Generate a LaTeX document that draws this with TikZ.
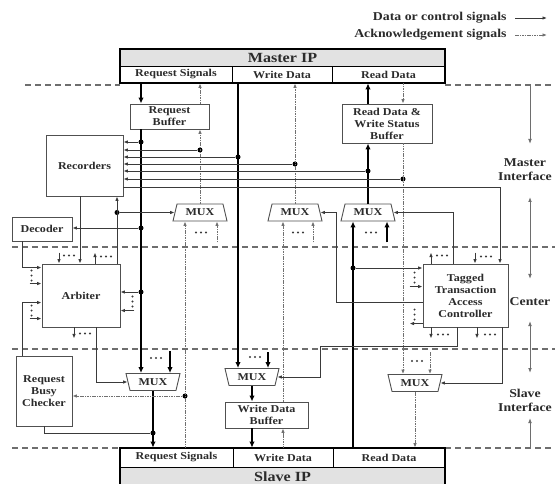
\documentclass[tikz,border=0pt]{standalone}
\usepackage{fontspec}
\setmainfont{Liberation Serif}[FakeStretch=1.15]
\usepackage{tikz}
\usetikzlibrary{arrows.meta,calc,positioning,shapes.geometric}
\definecolor{wiregray}{HTML}{3A3A3A}
\definecolor{ackgray}{HTML}{707070}
\definecolor{framegray}{HTML}{505050}
\definecolor{headgray}{HTML}{E2E2E2}
\definecolor{zonegray}{HTML}{6E6E6E}
\definecolor{textgray}{HTML}{2B2B2B}

\tikzset{
  boxfont/.style={font=\bfseries\fontsize{10.5}{12}\selectfont, text=textgray},
  unit/.style={boxfont, draw=framegray, line width=0.9pt, fill=white, align=center, inner sep=1pt},
  mux/.style={boxfont, trapezium, trapezium stretches body, trapezium left angle=60, trapezium right angle=60,
    draw=framegray, line width=0.9pt, fill=white, minimum width=54pt, minimum height=17pt, inner sep=0pt},
  muxdown/.style={mux, trapezium left angle=120, trapezium right angle=120},
  ipcell/.style={boxfont, draw=black, line width=0.8pt, inner sep=0pt, minimum height=17pt},
  iphead/.style={ipcell, fill=headgray, font=\bfseries\fontsize{14}{16}\selectfont},
  sig/.style={draw=wiregray, line width=0.9pt, -{Latex[length=4.5pt,width=3.6pt]}},
  bus/.style={draw=black, line width=2.2pt, -{Latex[length=6pt,width=5.5pt]}},
  ack/.style={draw=ackgray, line width=0.9pt, dash pattern=on 1.6pt off 0.8pt, -{Latex[length=4.5pt,width=3.6pt]}},
  tap/.style={draw=wiregray, line width=0.9pt},
  junction/.style={circle, fill=black, inner sep=0pt, minimum size=5pt},
  zone/.style={draw=zonegray, line width=1.2pt, dash pattern=on 6pt off 4pt},
  zonearrow/.style={draw=zonegray, line width=1pt},
  zonelabel/.style={font=\bfseries\fontsize{12}{14}\selectfont, text=textgray, align=center},
  legendtext/.style={font=\bfseries\fontsize{12}{14}\selectfont, text=textgray, anchor=east},
  dotrow/.pic={\foreach \d in {-5,0,5} \fill[wiregray] (\d,0) circle (1.1);},
  dotcol/.pic={\foreach \d in {-5,0,5} \fill[wiregray] (0,\d) circle (1.1);}
}

\begin{document}
\begin{tikzpicture}[x=1pt,y=-1pt]
    \useasboundingbox (0,0) rectangle (555,484);
    \clip (0,0) rectangle (555,484);

    % zone borders
    \draw[zone] (25,85) -- (120,85) (445,85) -- (555,85);
    \draw[zone] (12,247) -- (555,247);
    \draw[zone] (12,349) -- (555,349);
    \draw[zone] (12,448) -- (120,448) (445,448) -- (555,448);

    \node[legendtext] (lgdata) at (510,18) {Data or control signals};
    \node[legendtext] (lgack) at (510,35) {Acknowledgement signals};
    \draw[sig] ([xshift=5pt]lgdata.east) -- ++(32,0);
    \draw[ack] ([xshift=5pt]lgack.east) -- ++(32,0);

    % master and slave IP
    \node[iphead, minimum width=325pt] (master) at (282.5,57.5) {Master IP};
    \node[ipcell, minimum width=112pt] (mreq) at (176,74.5) {Request Signals};
    \node[ipcell, minimum width=100pt] (mwr) at (282,74.5) {Write Data};
    \node[ipcell, minimum width=113pt] (mrd) at (388.5,74.5) {Read Data};
    \draw[line width=2pt] (master.north west) rectangle (mrd.south east);

    \node[ipcell, minimum width=113pt, minimum height=19pt] (sreq) at (176.5,457.5) {Request Signals};
    \node[ipcell, minimum width=100pt, minimum height=19pt] (swr) at (283,457.5) {Write Data};
    \node[ipcell, minimum width=112pt, minimum height=19pt] (srd) at (389,457.5) {Read Data};
    \node[iphead, minimum width=325pt, minimum height=19pt] (slave) at (282.5,476.5) {Slave IP};
    \draw[line width=2pt] (sreq.north west) rectangle (slave.south east);

    % units
    \node[unit, minimum width=79pt, minimum height=25pt] (reqbuf) at (169.5,116.5) {Request\\Buffer};
    \node[unit, minimum width=90pt, minimum height=39pt] (rdbuf) at (387,123.5) {Read Data \&\\Write Status\\Buffer};
    \node[unit, minimum width=77pt, minimum height=61pt] (recorders) at (84.5,165.5) {Recorders};
    \node[unit, minimum width=60pt, minimum height=24pt] (decoder) at (42,229) {Decoder};
    \node[unit, minimum width=78pt, minimum height=63pt] (arbiter) at (81,295.5) {Arbiter};
    \node[unit, minimum width=85pt, minimum height=63pt] (ttac) at (465.5,295.5) {Tagged\\Transaction\\Access\\Controller};
    \node[unit, minimum width=56pt, minimum height=70pt] (rbc) at (44,391) {Request\\Busy\\Checker};
    \node[unit, minimum width=83pt, minimum height=26pt] (wdbuf) at (266.5,415) {Write Data\\Buffer};

    \node[mux] (mux1) at (200,212.5) {MUX};
    \node[mux] (mux2) at (295,212.5) {MUX};
    \node[mux] (mux3) at (368,212.5) {MUX};
    \node[muxdown] (muxa) at (153,382) {MUX};
    \node[muxdown] (muxb) at (252,377) {MUX};
    \node[muxdown] (muxc) at (415,383) {MUX};

    % zone labels
    \node[zonelabel] (mif) at (525,170) {Master\\Interface};
    \node[zonelabel] (cen) at (530,302) {Center};
    \node[zonelabel] (sif) at (525,400) {Slave\\Interface};
    \coordinate (zm1) at (530,85);  \coordinate (zm2) at (530,144);
    \coordinate (zc1) at (530,197); \coordinate (zc2) at (530,279);
    \coordinate (zs1) at (530,321); \coordinate (zs2) at (530,373);
    \coordinate (zb1) at (530,418); \coordinate (zb2) at (530,448);
    \draw[zonearrow, -{Latex[length=5pt]}] (zm1) -- (zm2);
    \draw[zonearrow, {Latex[length=5pt]}-{Latex[length=5pt]}] (zc1) -- (zc2);
    \draw[zonearrow, {Latex[length=5pt]}-{Latex[length=5pt]}] (zs1) -- (zs2);
    \draw[zonearrow, {Latex[length=5pt]}-] (zb1) -- (zb2);

    % junction dots
    \node[junction] (jrq1) at (141,142) {};
    \node[junction] (jrqack) at (200,150) {};
    \node[junction] (jwd) at (238,157) {};
    \node[junction] (jwdack) at (295,164) {};
    \node[junction] (jrd) at (368,171) {};
    \node[junction] (jrdack) at (403,179) {};
    \node[junction] (jsel) at (117,212.5) {};
    \node[junction] (jrq2) at (141,228) {};
    \node[junction] (jsrd) at (353,268) {};
    \node[junction] (jrq3) at (141,292) {};
    \node[junction] (jsack) at (185,396) {};
    \node[junction] (jreq) at (153,433) {};
    \coordinate (ttin) at (500,187);
    \coordinate (recout) at ([xshift=-4.5pt]recorders.south);
    \coordinate (wbx) at ([xshift=16.5pt]wdbuf.center);
    \coordinate (t3) at ($(ttac.north)+(-12.5,0)$);

    % request path
    \draw[bus] (mreq.south -| jrq1) -- (reqbuf.north -| jrq1);
    \draw[bus] (reqbuf.south -| jrq1) -- (jrq1 |- muxa.north);
    \draw[ack] (reqbuf.north -| jrqack) -- (mreq.south -| jrqack);
    \draw[ack] (mux1.north) -- (reqbuf.south -| mux1.north);
    \draw[bus] (muxa.south) -- (sreq.north -| muxa.south);
    \draw[tap] (rbc.south) |- (jreq);
    \draw[ack] (sreq.north -| jsack) -- (jsack |- mux1.south);
    \draw[ack] (jsack) -- (rbc.east |- jsack);

    % write path
    \draw[bus] (mwr.south -| jwd) -- (jwd |- muxb.north);
    \draw[ack] (mux2.north) -- (mwr.south -| mux2.north);
    \draw[bus] (muxb.south) -- (wdbuf.north -| muxb.south);
    \draw[bus] (wdbuf.south -| muxb.south) -- (swr.north -| muxb.south);
    \draw[ack] (swr.north -| wbx) -- (wdbuf.south -| wbx);
    \draw[ack] (wdbuf.north -| wbx) -- (mux2.south -| wbx);

    % read path
    \draw[bus] (rdbuf.north -| jrd) -- (mrd.south -| jrd);
    \draw[ack] (mrd.south -| jrdack) -- (rdbuf.north -| jrdack);
    \draw[bus] (mux3.north) -- (rdbuf.south -| mux3.north);
    \draw[bus] (srd.north -| jsrd) -- (mux3.south -| jsrd);
    \draw[ack] (rdbuf.south -| jrdack) -- (muxc.north -| jrdack);
    \draw[ack] (muxc.south) -- (srd.north -| muxc.south);

    % recorders
    \draw[sig] (jrq1) -- (recorders.east |- jrq1);
    \draw[sig] (jrqack) -- (recorders.east |- jrqack);
    \draw[sig] (jwd) -- (recorders.east |- jwd);
    \draw[sig] (jwdack) -- (recorders.east |- jwdack);
    \draw[sig] (jrd) -- (recorders.east |- jrd);
    \draw[sig] (jrdack) -- (recorders.east |- jrdack);
    \draw[sig] (recorders.east |- ttin) -- (ttin) -- (ttac.north -| ttin);

    % decoder, arbiter, controller
    \draw[sig] (jrq2) -- (decoder.east |- jrq2);
    \draw[sig] (jrq3) -- (arbiter.east |- jrq3);
    \draw[sig] ([xshift=-20pt]decoder.south) |- ($(arbiter.north west)+(0,4)$);
    \draw[sig] ([xshift=-22pt]rbc.north) |- ($(arbiter.north west)+(0,39)$);
    \draw[sig] (recout) -- (recout |- arbiter.north);
    \draw[sig] (jsel |- arbiter.north) -- (jsel |- recorders.south);
    \draw[sig] (jsel) -- (mux1.west);
    \draw[sig] ($(arbiter.south)+(15,0)$) |- (muxa.west);
    \draw[sig] (t3) |- (mux3.east);
    \draw[sig] ($(ttac.north west)+(0,39)$) -| ($(mux2.east)+(16,0)$) -- (mux2.east);
    \draw[sig] ($(ttac.south)+(-8.5,0)$) |- ($(muxb.east)+(43,-31)$) |- (muxb.east);
    \draw[sig] ($(ttac.south)+(36.5,0)$) |- (muxc.east);
    \draw[sig] (jsrd) -- (ttac.west |- jsrd);

    % arbiter stubs
    \draw[sig] ($(arbiter.north)+(-22,-11)$) -- ++(0,11);
    \pic at ($(arbiter.north)+(-12,-8)$) {dotrow};
    \draw[sig] ($(arbiter.north)+(14,0)$) -- ++(0,-11);
    \pic at ($(arbiter.north)+(25,-7)$) {dotrow};
    \pic at ($(arbiter.north west)+(-10,12)$) {dotcol};
    \draw[sig] ($(arbiter.north west)+(-12,20)$) -- ++(12,0);
    \pic at ($(arbiter.north west)+(-10,47)$) {dotcol};
    \draw[sig] ($(arbiter.north west)+(-12,55)$) -- ++(12,0);
    \pic at ($(arbiter.north east)+(12,38)$) {dotcol};
    \draw[sig] ($(arbiter.north east)+(14,47)$) -- ++(-14,0);
    \draw[sig] ($(arbiter.south)+(-7,0)$) -- ++(0,11);
    \pic at ($(arbiter.south)+(4,6)$) {dotrow};

    % controller stubs
    \draw[sig] ($(ttac.north)+(-34.5,0)$) -- ++(0,-11);
    \pic at ($(ttac.north)+(-23.5,-8)$) {dotrow};
    \draw[sig] ($(ttac.north)+(9.5,-11)$) -- ++(0,11);
    \pic at ($(ttac.north)+(20.5,-7)$) {dotrow};
    \pic at ($(ttac.north west)+(-8,14)$) {dotcol};
    \draw[sig] ($(ttac.north west)+(-13,23)$) -- ++(13,0);
    \pic at ($(ttac.north west)+(-8,51)$) {dotcol};
    \draw[sig] ($(ttac.north west)+(0,60)$) -- ++(-13,0);
    \draw[sig] ($(ttac.south)+(-34.5,0)$) -- ++(0,11);
    \pic at ($(ttac.south)+(-22.5,7)$) {dotrow};
    \draw[sig] ($(ttac.south)+(11.5,0)$) -- ++(0,11);
    \pic at ($(ttac.south)+(24.5,7)$) {dotrow};

    % mux stubs
    \draw[ack] ($(mux1.south)+(17,21)$) -- ++(0,-21);
    \pic at ($(mux1.south)+(1,11)$) {dotrow};
    \draw[ack] ($(mux2.south)+(18,21)$) -- ++(0,-21);
    \pic at ($(mux2.south)+(3,11)$) {dotrow};
    \draw[bus] ($(mux3.south)+(19,21)$) -- ++(0,-21);
    \pic at ($(mux3.south)+(3,11)$) {dotrow};
    \draw[bus] ($(muxa.north)+(17,-22)$) -- ++(0,22);
    \pic at ($(muxa.north)+(3,-15)$) {dotrow};
    \draw[bus] ($(muxb.north)+(16,-16)$) -- ++(0,16);
    \pic at ($(muxb.north)+(3,-11)$) {dotrow};
    \draw[ack] ($(muxc.north)+(15,-22)$) -- ++(0,22);
    \pic at ($(muxc.north)+(2,-13)$) {dotrow};
\end{tikzpicture}
\end{document}
